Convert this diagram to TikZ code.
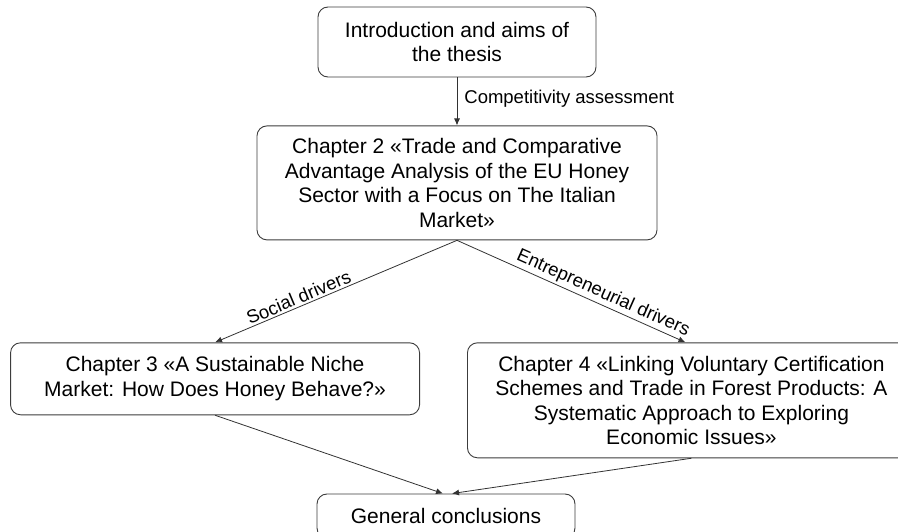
\documentclass[tikz,border=0pt]{standalone}
\usepackage{fontspec}
\setmainfont{Liberation Sans}
\usepackage{tikz}
\usetikzlibrary{arrows.meta, positioning, calc}
\definecolor{boxline}{RGB}{60,60,60}
\definecolor{arrowline}{RGB}{50,50,50}

\begin{document}
\begin{tikzpicture}[
    x=1pt, y=1pt,
    chapter/.style={rectangle, draw=boxline, line width=0.9pt, rounded corners=10pt, align=center, inner sep=0pt, font=\fontsize{21}{24.5}\selectfont},
    arrow/.style={-{Latex[length=7pt,width=6pt]}, line width=0.8pt, arrowline},
    label/.style={font=\fontsize{18.5}{21}\selectfont, text=black, inner sep=2pt}
]
\clip (0,0) rectangle (898,-532);

% === Introduction ===
\node[chapter, minimum width=278pt, minimum height=70pt] (intro) at (457,-42) {Introduction and aims of\\the thesis};

% === Chapter 2 ===
\node[chapter, below=48pt of intro, minimum width=400pt, minimum height=114pt] (ch2) {Chapter 2 «Trade and Comparative\\Advantage Analysis of the EU Honey\\Sector with a Focus on The Italian\\Market»};

% === Chapters 3 and 4 ===
\node[chapter, below left=102pt and 37pt of ch2.south, minimum width=409pt, minimum height=72pt] (ch3) {Chapter 3 «A Sustainable Niche\\Market: How Does Honey Behave?»};
\node[chapter, below right=102pt and 10pt of ch2.south, minimum width=448pt, minimum height=115pt] (ch4) {Chapter 4 «Linking Voluntary Certification\\Schemes and Trade in Forest Products: A\\Systematic Approach to Exploring\\Economic Issues»};

% === Conclusions ===
\node[chapter, minimum width=258pt, minimum height=44pt] (gen) at (446,-516) {General conclusions};

% === Arrows ===
\draw[arrow] (intro.south) -- node[label, right, pos=0.45, xshift=5pt] {Competitivity assessment} (ch2.north);
\draw[arrow] (ch2.south) -- node[label, sloped, above, pos=0.64] {Social drivers} (ch3.north);
\draw[arrow] (ch2.south) -- node[label, sloped, above, pos=0.62] {Entrepreneurial drivers} ($(ch4.north)+(-6,0)$);
\draw[arrow] (ch3.south) -- ($(gen.north)+(-3,0)$);
\draw[arrow] (ch4.south) -- ($(gen.north)+(6,0)$);

\end{tikzpicture}
\end{document}
